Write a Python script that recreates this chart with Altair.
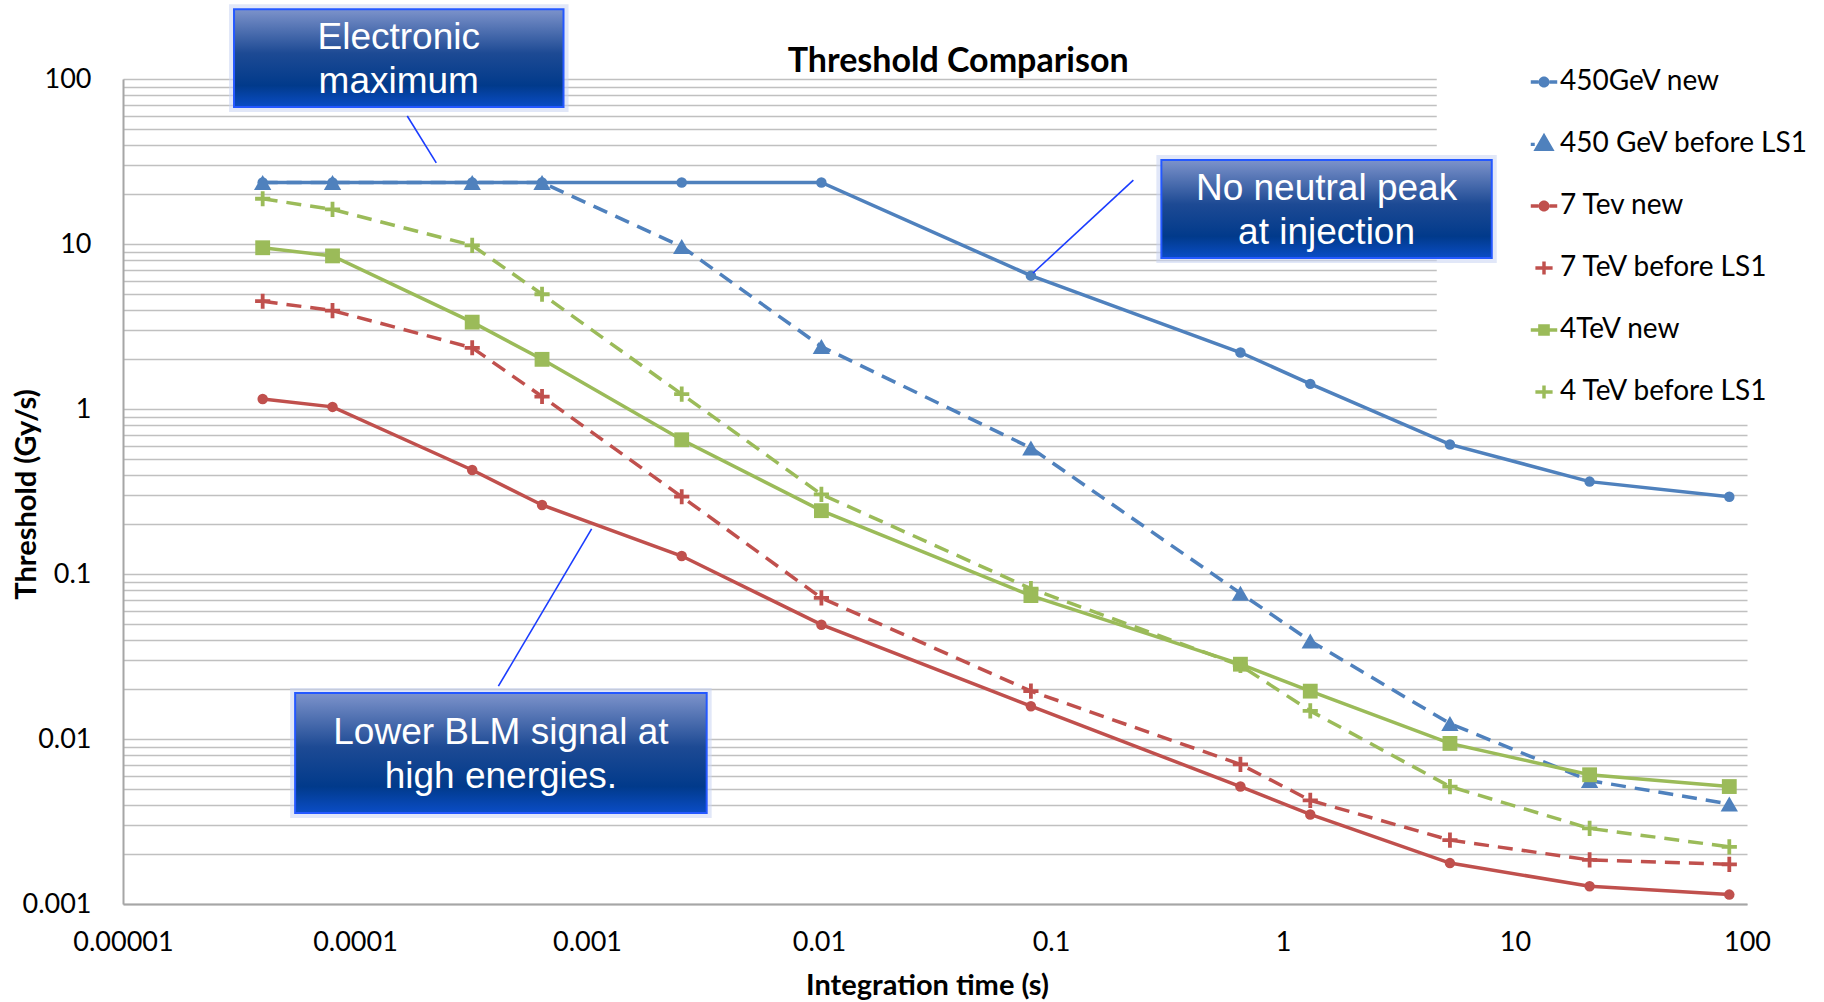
import altair as alt
import pandas as pd

# ---------------- data ----------------
series = ["450GeV new", "450 GeV before LS1", "7 Tev new",
          "7 TeV before LS1", "4TeV new", "4 TeV before LS1"]
colors = ["#4F81BD", "#4F81BD", "#C0504D", "#C0504D", "#9BBB59", "#9BBB59"]
dashed = [False, True, False, True, False, True]

times = [4e-5, 8e-5, 3.2e-4, 6.4e-4, 2.56e-3, 1.024e-2, 8.192e-2,
         0.65536, 1.31072, 5.24288, 20.97152, 83.88608]

v450_new = [23.6, 23.6, 23.6, 23.6, 23.6, 23.6, 6.43, 2.20, 1.42, 0.61, 0.363, 0.294]
v450_old = [23.6, 23.6, 23.6, 23.6, 9.65, 2.39, 0.581, 0.0764, 0.0393, 0.0124, 0.0056, 0.00404]
v7_new = [1.15, 1.03, 0.427, 0.262, 0.1285, 0.0493, 0.0158, 0.00515, 0.00349, 0.00177, 0.00128, 0.00114]
v7_old = [4.50, 3.95, 2.35, 1.19, 0.294, 0.0716, 0.0195, 0.00702, 0.00425, 0.00244, 0.00185, 0.00174]
v4_new = [9.49, 8.47, 3.36, 2.0, 0.651, 0.242, 0.0740, 0.0284, 0.0195, 0.0094, 0.00607, 0.00515]
v4_old = [18.8, 16.2, 9.81, 4.96, 1.23, 0.304, 0.0815, 0.0279, 0.0148, 0.00515, 0.00287, 0.00222]
all_values = [v450_new, v450_old, v7_new, v7_old, v4_new, v4_old]

x_ticks = [0.00001, 0.0001, 0.001, 0.01, 0.1, 1, 10, 100]
y_ticks = [round(k * 10.0 ** e, 6) for e in range(-3, 2) for k in range(1, 10)] + [100]

# annotation call-outs (data units)
box_text = ["Electronic\nmaximum", "No neutral peak\nat injection", "Lower BLM signal at\nhigh energies."]
box_x0 = [3.01e-5, 0.299, 5.52e-5]
box_x1 = [7.92e-4, 7.94, 3.28e-3]
box_y0 = [67.6, 8.22, 0.00356]
box_y1 = [265.0, 32.3, 0.0190]
lead_x0 = [1.68e-4, 0.2265, 4.15e-4]
lead_y0 = [59.7, 24.4, 0.0209]
lead_x1 = [2.24e-4, 0.0837, 1.047e-3]
lead_y1 = [31.0, 6.67, 0.1875]

title_text = ["Threshold Comparison"]
title_x = [0.0398]
title_y = [127.0]

# area behind the legend that hides gridlines (data units)
mask_x0, mask_x1, mask_y0, mask_y1 = [4.6], [150.0], [0.85], [120.0]

# ---------------- frames ----------------
rows = []
for s, vals in zip(series, all_values):
    for t, v in zip(times, vals):
        rows.append({"series": s, "t": t, "v": v})
df = pd.DataFrame(rows)

ann = pd.DataFrame({
    "text": box_text, "x0": box_x0, "x1": box_x1, "y0": box_y0, "y1": box_y1,
    "xc": [(a * b) ** 0.5 for a, b in zip(box_x0, box_x1)],
    "yc": [(a * b) ** 0.5 for a, b in zip(box_y0, box_y1)],
})
leads = pd.DataFrame({"x0": lead_x0, "y0": lead_y0, "x1": lead_x1, "y1": lead_y1})
tdf = pd.DataFrame({"text": title_text, "x": title_x, "y": title_y})
mdf = pd.DataFrame({"x0": mask_x0, "x1": mask_x1, "y0": mask_y0, "y1": mask_y1})

# ---------------- scales / axes ----------------
xscale = alt.Scale(type="log", domain=[1e-5, 100], nice=False)
yscale = alt.Scale(type="log", domain=[0.001, 100], nice=False)

FONT = "Lato"
xaxis = alt.Axis(title="Integration time (s)", values=x_ticks, format=".5~f", grid=False,
                 ticks=False, domainColor="#a6a6a6", domainWidth=2, labelFont=FONT,
                 labelFontSize=27, labelColor="black", labelPadding=25, labelFlush=False,
                 labelOverlap=False, titleFont=FONT, titleFontSize=29, titleFontWeight="bold",
                 titleColor="black", titleX=804, titleY=81, titleBaseline="middle",
                 titleAlign="center")
yaxis = alt.Axis(title="Threshold (Gy/s)", values=y_ticks, format=".3~f",
                 labelExpr="abs(log(datum.value)/LN10 - round(log(datum.value)/LN10)) < 1e-6 ? datum.label : ''",
                 grid=True, gridColor="#c0c0c0", gridWidth=1.5, ticks=False,
                 domainColor="#a6a6a6", domainWidth=2, labelFont=FONT, labelFontSize=27,
                 labelColor="black", labelPadding=32, labelOverlap=False, labelFlush=False,
                 titleFont=FONT, titleFontSize=29, titleFontWeight="bold", titleColor="black",
                 titleX=-97, titleY=415, titleBaseline="middle", titleAlign="center")

def X(f):
    return alt.X(f, type="quantitative", scale=xscale, axis=xaxis)

def Y(f):
    return alt.Y(f, type="quantitative", scale=yscale, axis=yaxis)

layers = []

# gridline mask behind legend
layers.append(alt.Chart(mdf).mark_rect(fill="white").encode(
    x=X("x0"), x2="x1", y=Y("y0"), y2="y1"))

# marker definitions
plus_path = "M-1,-0.25H1V0.25H-1Z M-0.25,-1H0.25V-0.25H-0.25Z M-0.25,0.25H0.25V1H-0.25Z"
marker_shape = ["circle", "triangle-up", "circle", plus_path, "square", plus_path]
marker_size = [110, 300, 110, 230, 220, 230]

for s, c, d, sh, sz in zip(series, colors, dashed, marker_shape, marker_size):
    base = alt.Chart(df).transform_filter(alt.datum.series == s)
    line_kw = dict(color=c, strokeWidth=3.5)
    if d:
        line_kw["strokeDash"] = [15, 9]
    layers.append(base.mark_line(**line_kw).encode(x=X("t"), y=Y("v")))
    layers.append(base.mark_point(shape=sh, size=sz, filled=True, fill=c, color=c,
                                  opacity=1, strokeWidth=0).encode(x=X("t"), y=Y("v")))

# legend (custom symbols: line stub + marker)
stubs = "M-1,-0.14H-0.42V0.14H-1Z M0.42,-0.14H1V0.14H0.42Z "
leg_circle = stubs + "M-0.42,0A0.42,0.42,0,1,0,0.42,0A0.42,0.42,0,1,0,-0.42,0Z"
leg_tri = "M-1,-0.1H-0.7V0.16H-1Z M0,-0.85L0.8,0.52H-0.8Z"
leg_plus = "M-0.65,-0.13H0.65V0.13H-0.65Z M-0.13,-0.5H0.13V-0.13H-0.13Z M-0.13,0.13H0.13V0.5H-0.13Z"
leg_square = stubs + "M-0.44,-0.44H0.44V0.44H-0.44Z"
legend_shapes = [leg_circle, leg_tri, leg_circle, leg_plus, leg_square, leg_plus]

leg = alt.Legend(title=None, orient="none", legendX=1407, legendY=-11, labelFont=FONT,
                 labelFontSize=28, labelColor="black", symbolSize=700, symbolStrokeWidth=0,
                 symbolOpacity=1, rowPadding=34, labelOffset=2, labelLimit=400,
                 direction="vertical")
layers.append(alt.Chart(df).mark_point(filled=True, opacity=0).encode(
    x=X("t"), y=Y("v"),
    color=alt.Color("series:N", scale=alt.Scale(domain=series, range=colors), legend=leg),
    shape=alt.Shape("series:N", scale=alt.Scale(domain=series, range=legend_shapes), legend=leg),
))

# chart title as text
layers.append(alt.Chart(tdf).mark_text(font=FONT, fontSize=34, fontWeight="bold",
                                       color="black", align="center", baseline="middle").encode(
    x=X("x"), y=Y("y"), text="text:N"))

# call-out boxes
grad = alt.Gradient(gradient="linear", x1=0, x2=0, y1=0, y2=1, stops=[
    alt.GradientStop(offset=0, color="#7d93cb"),
    alt.GradientStop(offset=0.45, color="#1d4a94"),
    alt.GradientStop(offset=0.78, color="#013a8b"),
    alt.GradientStop(offset=1, color="#0a4dc6"),
])
layers.append(alt.Chart(ann).mark_rect(fill=None, stroke="#c9d3f3", strokeWidth=10,
                                       strokeOpacity=0.55).encode(
    x=X("x0"), x2="x1", y=Y("y0"), y2="y1"))
layers.append(alt.Chart(ann).mark_rect(fill=grad, stroke="#2458ff", strokeWidth=2).encode(
    x=X("x0"), x2="x1", y=Y("y0"), y2="y1"))
layers.append(alt.Chart(ann).mark_text(font="Liberation Sans", fontSize=37, color="white",
                                       align="center", baseline="middle", lineBreak="\n",
                                       lineHeight=44, dy=-20).encode(
    x=X("xc"), y=Y("yc"), text="text:N"))
layers.append(alt.Chart(leads).mark_rule(color="#1a3cff", strokeWidth=1.6).encode(
    x=X("x0"), y=Y("y0"), x2="x1", y2="y1"))

chart = alt.layer(*layers).properties(
    width=1624, height=825,
    autosize=alt.AutoSizeParams(type="none"),
    padding={"left": 123, "top": 79, "right": 77, "bottom": 98},
    background="white",
).configure_view(stroke=None)

chart.save("out.html", embed_options={"renderer": "svg", "actions": False})
